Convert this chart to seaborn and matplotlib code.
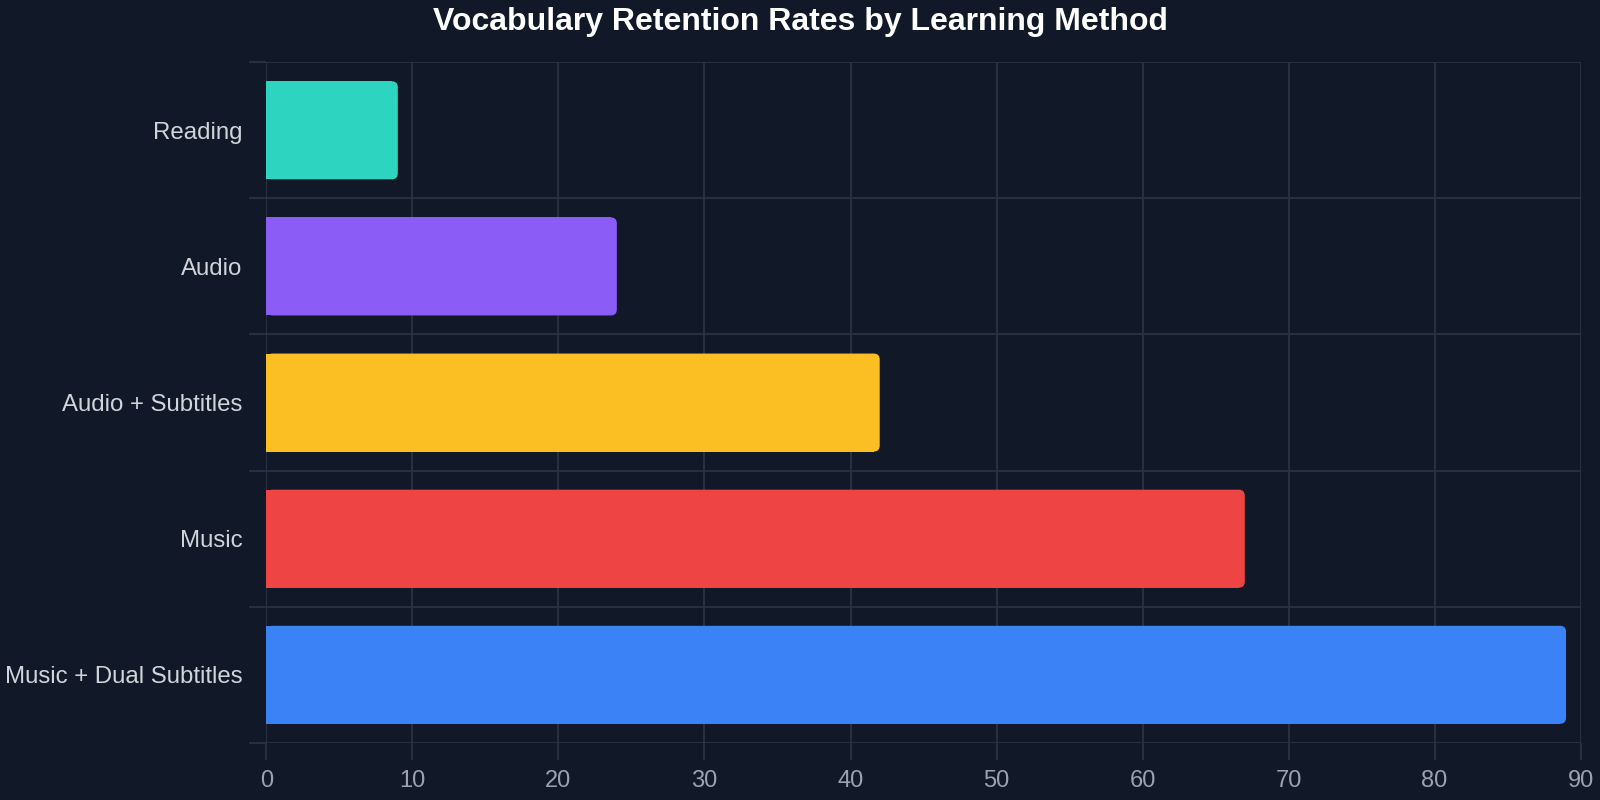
import matplotlib.pyplot as plt
import pandas as pd
import seaborn as sns
from matplotlib.patches import FancyBboxPatch

methods = ['Reading', 'Audio', 'Audio + Subtitles', 'Music', 'Music + Dual Subtitles']
retention = [9, 24, 42, 67, 89]
colors = ['#2dd4bf', '#8b5cf6', '#fbbf24', '#ef4444', '#3b82f6']

BG = '#111827'
GRID = '#2b3342'

sns.set_theme(style='dark')
plt.rcParams['font.family'] = ['Liberation Sans', 'DejaVu Sans']

df = pd.DataFrame({'method': methods, 'retention': retention})

AX_L, AX_B, AX_W, AX_H = 0.1665, 0.0714, 0.8214, 0.8508

fig = plt.figure(figsize=(16, 8), dpi=100, facecolor=BG)
ax = fig.add_axes([AX_L, AX_B, AX_W, AX_H])
ax.set_facecolor(BG)

sns.barplot(data=df, y='method', x='retention', hue='method', palette=colors,
            order=methods, hue_order=methods, legend=False, width=0.72,
            saturation=1, orient='h', ax=ax, zorder=3)

ax.set_xlim(0, 90)
ax.set_ylim(4.5, -0.5)

# rounded right ends: radius in pixels converted to data units on each axis
r_px = 6
px_x = AX_W * 1600 / 90
px_y = AX_H * 800 / 5
rx, ry = r_px / px_x, r_px / px_y
for patch in list(ax.patches):
    x0, y0 = patch.get_x(), patch.get_y()
    w, h = patch.get_width(), patch.get_height()
    col = patch.get_facecolor()
    patch.set_width(w - rx)
    patch.set_edgecolor('none')
    ax.add_patch(FancyBboxPatch((x0, y0), w, h,
                                boxstyle=f'round,pad=0,rounding_size={rx}',
                                mutation_aspect=ry / rx,
                                facecolor=col, edgecolor='none', zorder=3))

ax.set_xticks(range(0, 91, 10))
ax.set_yticks([i - 0.5 for i in range(6)], minor=True)
ax.grid(True, axis='x', which='major', color=GRID, linewidth=1.3, zorder=0)
ax.grid(True, axis='y', which='minor', color=GRID, linewidth=1.3, zorder=0)
ax.grid(False, axis='y', which='major')
ax.tick_params(axis='x', length=12, width=1.3, color=GRID, pad=7.5,
               labelsize=17, labelcolor='#9ca3af', bottom=True)
ax.tick_params(axis='y', which='minor', length=12, width=1.3, color=GRID, left=True)
ax.tick_params(axis='y', which='major', length=0, pad=17,
               labelsize=17.3, labelcolor='#d1d5db')
for s in ax.spines.values():
    s.set_visible(False)
ax.set_xlabel('')
ax.set_ylabel('')

fig.suptitle('Vocabulary Retention Rates by Learning Method', y=0.973, va='center',
             fontsize=23, fontweight='bold', color='white')

fig.savefig('out.png', dpi=100, facecolor=BG)
